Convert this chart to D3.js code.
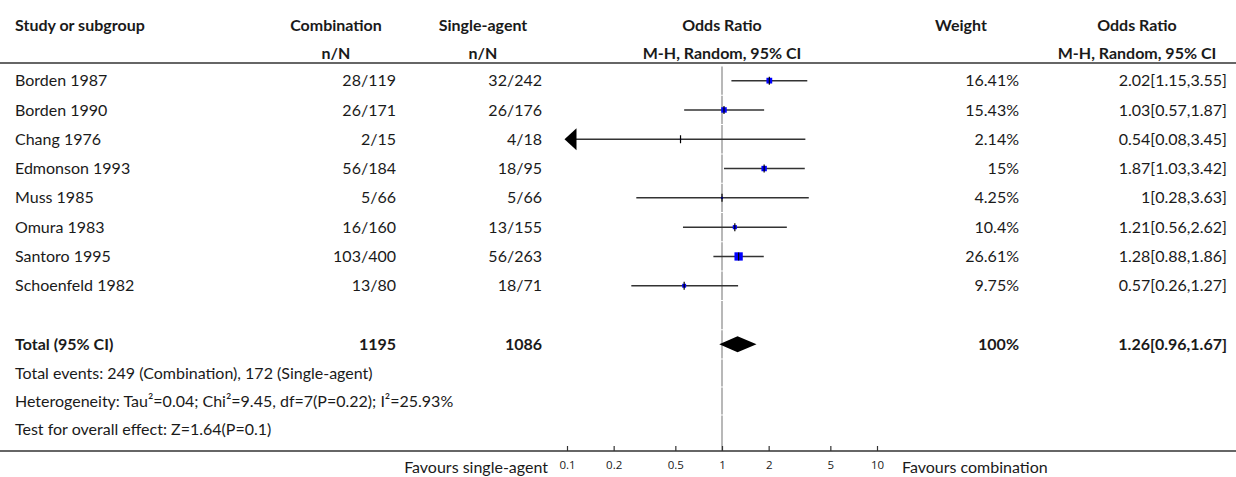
<!DOCTYPE html>
<html>
<head>
<meta charset="utf-8">
<script src="https://cdn.jsdelivr.net/npm/d3@7"></script>
<style>
  html, body { margin: 0; padding: 0; background: #fff; }
  svg { display: block; }
  text { font-family: Lato, "Noto Sans", sans-serif; fill: #1a1a1a; }
</style>
</head>
<body>
<svg id="chart" width="1236" height="477"></svg>
<script>
// ---------- data ----------
const studies = ["Borden 1987", "Borden 1990", "Chang 1976", "Edmonson 1993", "Muss 1985", "Omura 1983", "Santoro 1995", "Schoenfeld 1982"];
const combEvents = [28, 26, 2, 56, 5, 16, 103, 13];
const combTotal = [119, 171, 15, 184, 66, 160, 400, 80];
const singleEvents = [32, 26, 4, 18, 5, 13, 56, 18];
const singleTotal = [242, 176, 18, 95, 66, 155, 263, 71];
const oddsRatio = [2.02, 1.03, 0.54, 1.87, 1, 1.21, 1.28, 0.57];
const ciLower = [1.15, 0.57, 0.08, 1.03, 0.28, 0.56, 0.88, 0.26];
const ciUpper = [3.55, 1.87, 3.45, 3.42, 3.63, 2.62, 1.86, 1.27];
const weights = [16.41, 15.43, 2.14, 15, 4.25, 10.4, 26.61, 9.75];
const totalComb = 1195;
const totalSingle = 1086;
const totalOR = 1.26;
const totalLower = 0.96;
const totalUpper = 1.67;
const totalWeight = 100;
const tickValues = [0.1, 0.2, 0.5, 1, 2, 5, 10];
const headers1 = ["Study or subgroup", "Combination", "Single-agent", "Odds Ratio", "Weight", "Odds Ratio"];
const headers2 = ["", "n/N", "n/N", "M-H, Random, 95% CI", "", "M-H, Random, 95% CI"];
const footers = [
  "Total events: 249 (Combination), 172 (Single-agent)",
  "Heterogeneity: Tau\u00b2=0.04; Chi\u00b2=9.45, df=7(P=0.22); I\u00b2=25.93%",
  "Test for overall effect: Z=1.64(P=0.1)"
];
const favoursLeft = "Favours single-agent";
const favoursRight = "Favours combination";

// ---------- layout ----------
const W = 1236, H = 477;
const svg = d3.select("#chart");
const FS = 16;
const colStudy = 15;
const headerCenters = [null, 336, 483, 722, 961, 1137];
const dataRight = {comb: 396, single: 542, weight: 1019, ortext: 1227};
const headerY1 = 25, headerY2 = 53, headerLineY = 63;
const axisY = 451;

const x = d3.scaleLog().domain([0.1, 10]).range([567, 877]);

const rowIdx = d3.range(10); // 8 studies, blank, total
const y = d3.scaleBand().domain(rowIdx).range([66, 66 + 10 * 29.3]).paddingInner(0);
const yc = i => y(i) + y.bandwidth() / 2;
const yf = d3.scaleBand().domain(d3.range(footers.length)).range([359, 443]);
const yfc = i => yf(i) + yf.bandwidth() / 2;

const size = d3.scalePow().exponent(0.75).domain([0, d3.max(weights)]).range([0, 8.3]);

// ---------- lines ----------
svg.append("line").attr("x1", 0).attr("x2", W).attr("y1", headerLineY).attr("y2", headerLineY)
  .attr("stroke", "#333").attr("stroke-width", 1.5);

// vertical reference line (segments per row)
const segs = rowIdx.map(i => [y(i) + 0.5, y(i) + y.bandwidth() - 0.5])
  .concat(d3.range(footers.length).map(i => [yf(i) + 0.5, i === footers.length - 1 ? axisY : yf(i) + yf.bandwidth() - 0.5]));
svg.append("g").selectAll("line").data(segs).join("line")
  .attr("x1", x(1)).attr("x2", x(1))
  .attr("y1", d => d[0]).attr("y2", d => d[1])
  .attr("stroke", "#a0a0a0").attr("stroke-width", 1.5);

// bottom axis line
svg.append("line").attr("x1", 0).attr("x2", W).attr("y1", axisY).attr("y2", axisY)
  .attr("stroke", "#333").attr("stroke-width", 1.5);

const axis = d3.axisBottom(x).tickValues(tickValues).tickFormat(d => String(d)).tickSize(0).tickPadding(0);
const gAxis = svg.append("g").attr("transform", `translate(0,${axisY})`).call(axis);
gAxis.select(".domain").remove();
gAxis.selectAll(".tick line").attr("y1", -5).attr("y2", 0).attr("stroke", "#333").attr("stroke-width", 1.2);
gAxis.selectAll(".tick text").attr("y", 14).attr("dy", "0.35em")
  .style("font-family", "'Open Sans', sans-serif").style("font-size", "11.5px").attr("fill", "#1a1a1a");

// ---------- headers ----------
const gh = svg.append("g").style("font-weight", "bold").style("font-size", FS + "px");
headers1.forEach((h, i) => {
  gh.append("text").text(h)
    .attr("x", i === 0 ? colStudy : headerCenters[i])
    .attr("y", headerY1).attr("dy", "0.35em")
    .attr("text-anchor", i === 0 ? "start" : "middle");
});
headers2.forEach((h, i) => {
  if (!h) return;
  gh.append("text").text(h)
    .attr("x", headerCenters[i])
    .attr("y", headerY2).attr("dy", "0.35em")
    .attr("text-anchor", "middle");
});

// ---------- study rows ----------
const gt = svg.append("g").style("font-size", FS + "px");
studies.forEach((s, i) => {
  const cy = yc(i);
  gt.append("text").text(s).attr("x", colStudy).attr("y", cy).attr("dy", "0.35em");
  gt.append("text").text(combEvents[i] + "/" + combTotal[i]).attr("x", dataRight.comb).attr("y", cy).attr("dy", "0.35em").attr("text-anchor", "end");
  gt.append("text").text(singleEvents[i] + "/" + singleTotal[i]).attr("x", dataRight.single).attr("y", cy).attr("dy", "0.35em").attr("text-anchor", "end");
  gt.append("text").text(weights[i] + "%").attr("x", dataRight.weight).attr("y", cy).attr("dy", "0.35em").attr("text-anchor", "end");
  gt.append("text").text(oddsRatio[i] + "[" + ciLower[i] + "," + ciUpper[i] + "]").attr("x", dataRight.ortext).attr("y", cy).attr("dy", "0.35em").attr("text-anchor", "end");
});

// CI lines, markers
const gp = svg.append("g");
const [dmin, dmax] = x.domain();
studies.forEach((s, i) => {
  const cy = yc(i);
  const lo = Math.max(ciLower[i], dmin), hi = Math.min(ciUpper[i], dmax);
  gp.append("line").attr("x1", x(lo)).attr("x2", x(hi)).attr("y1", cy).attr("y2", cy)
    .attr("stroke", "#333").attr("stroke-width", 1.5);
  if (ciLower[i] < dmin) {
    const tip = x(dmin) - 2.5;
    gp.append("path").attr("d", `M${tip},${cy} L${tip + 12},${cy - 11} L${tip + 12},${cy + 11} Z`).attr("fill", "#000");
  }
  if (ciUpper[i] > dmax) {
    const tip = x(dmax) + 2.5;
    gp.append("path").attr("d", `M${tip},${cy} L${tip - 12},${cy - 11} L${tip - 12},${cy + 11} Z`).attr("fill", "#000");
  }
  const sz = size(weights[i]);
  gp.append("rect").attr("x", x(oddsRatio[i]) - sz / 2).attr("y", cy - sz / 2).attr("width", sz).attr("height", sz)
    .attr("fill", "#0000ff");
  gp.append("line").attr("x1", x(oddsRatio[i])).attr("x2", x(oddsRatio[i])).attr("y1", cy - 4).attr("y2", cy + 4)
    .attr("stroke", "#000").attr("stroke-width", 1.2);
});

// ---------- total row ----------
const ty = yc(9);
const gtot = svg.append("g").style("font-weight", "bold").style("font-size", FS + "px");
gtot.append("text").text("Total (95% CI)").attr("x", colStudy).attr("y", ty).attr("dy", "0.35em");
gtot.append("text").text(totalComb).attr("x", dataRight.comb).attr("y", ty).attr("dy", "0.35em").attr("text-anchor", "end");
gtot.append("text").text(totalSingle).attr("x", dataRight.single).attr("y", ty).attr("dy", "0.35em").attr("text-anchor", "end");
gtot.append("text").text(totalWeight + "%").attr("x", dataRight.weight).attr("y", ty).attr("dy", "0.35em").attr("text-anchor", "end");
gtot.append("text").text(totalOR + "[" + totalLower + "," + totalUpper + "]").attr("x", dataRight.ortext).attr("y", ty).attr("dy", "0.35em").attr("text-anchor", "end");

svg.append("path")
  .attr("d", `M${x(totalLower)},${ty} L${x(totalOR)},${ty - 8} L${x(totalUpper)},${ty} L${x(totalOR)},${ty + 8} Z`)
  .attr("fill", "#000");

// ---------- footers ----------
const gf = svg.append("g").style("font-size", FS + "px");
footers.forEach((f, i) => {
  gf.append("text").text(f).attr("x", colStudy).attr("y", yfc(i)).attr("dy", "0.35em");
});

gf.append("text").text(favoursLeft).attr("x", 548).attr("y", 467).attr("dy", "0.35em").attr("text-anchor", "end");
gf.append("text").text(favoursRight).attr("x", 902).attr("y", 467).attr("dy", "0.35em");
</script>
</body>
</html>
